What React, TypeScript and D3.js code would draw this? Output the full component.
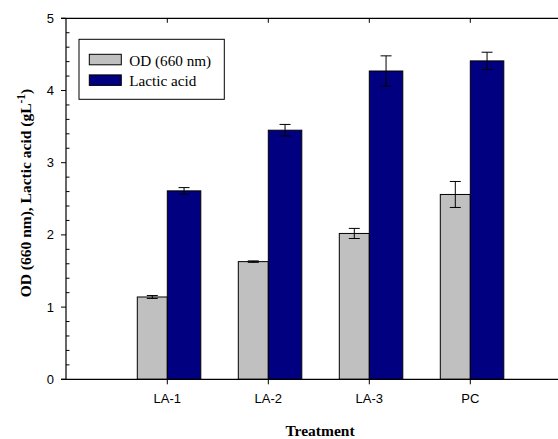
import React from "react";
import * as d3 from "d3";

const categories = ["LA-1", "LA-2", "LA-3", "PC"];
const odValues = [1.14, 1.63, 2.02, 2.56];
const odErrors = [0.02, 0.01, 0.07, 0.18];
const lacticValues = [2.61, 3.45, 4.27, 4.41];
const lacticErrors = [0.045, 0.08, 0.21, 0.12];
const yTicks = [0, 1, 2, 3, 4, 5];
const seriesNames = ["OD (660 nm)", "Lactic acid"];
const seriesColors = ["#C0C0C0", "#000080"];

const W = 558;
const H = 439;
const left = 66;
const right = 558;
const top = 18.3;
const bottom = 379.3;

export default function App() {
  const y = d3.scaleLinear().domain([0, 5]).range([bottom, top]);
  const x = d3.scaleLinear().domain([1, 4]).range([167.3, 470.3]);
  const minor = d3.range(0, 5.001, 0.2).filter((v) => Math.abs(v - Math.round(v)) > 1e-6);
  const grayW = 30;
  const blueW = 33.5;
  const cap = 5.5;

  const errBar = (cx: number, v: number, e: number, key: string) => (
    <g key={key} stroke="#000" strokeWidth={1}>
      <line x1={cx} x2={cx} y1={y(v + e)} y2={y(v - e)} />
      <line x1={cx - cap} x2={cx + cap} y1={y(v + e)} y2={y(v + e)} />
      <line x1={cx - cap} x2={cx + cap} y1={y(v - e)} y2={y(v - e)} />
    </g>
  );

  return (
    <svg width={W} height={H} style={{ position: "absolute", left: 0, top: 0, background: "#fff" }}>
      <rect x={0} y={0} width={W} height={H} fill="#fff" />
      {categories.map((c, i) => {
        const cx = x(i + 1);
        return (
          <g key={c}>
            <rect x={cx - grayW} y={y(odValues[i])} width={grayW} height={y(0) - y(odValues[i])} fill={seriesColors[0]} stroke="#000" strokeWidth={1} />
            <rect x={cx} y={y(lacticValues[i])} width={blueW} height={y(0) - y(lacticValues[i])} fill={seriesColors[1]} stroke="#000" strokeWidth={1} />
            {errBar(cx - grayW / 2, odValues[i], odErrors[i], "e1")}
            {errBar(cx + blueW / 2, lacticValues[i], lacticErrors[i], "e2")}
          </g>
        );
      })}
      <line x1={left} x2={left} y1={top} y2={bottom} stroke="#000" strokeWidth={1.2} />
      <line x1={left - 5} x2={right} y1={bottom} y2={bottom} stroke="#000" strokeWidth={1.2} />
      <line x1={left - 5} x2={right} y1={top} y2={top} stroke="#000" strokeWidth={1.2} />
      {yTicks.map((t) => (
        <g key={t}>
          <line x1={left - 5} x2={left} y1={y(t)} y2={y(t)} stroke="#000" strokeWidth={1} />
          <text x={left - 12} y={y(t)} dy="0.35em" textAnchor="end" fontFamily="'Liberation Sans', Arial, sans-serif" fontSize={13} fill="#000">
            {t}
          </text>
        </g>
      ))}
      {minor.map((t) => (
        <line key={t} x1={left} x2={left + 3.5} y1={y(t)} y2={y(t)} stroke="#000" strokeWidth={1} />
      ))}
      {categories.map((c, i) => (
        <g key={c}>
          <line x1={x(i + 1)} x2={x(i + 1)} y1={bottom} y2={bottom + 5} stroke="#000" strokeWidth={1} />
          <line x1={x(i + 1)} x2={x(i + 1)} y1={top} y2={top + 4.5} stroke="#000" strokeWidth={1} />
          <text x={x(i + 1)} y={403} textAnchor="middle" fontFamily="'Liberation Sans', Arial, sans-serif" fontSize={13} fill="#000">
            {c}
          </text>
        </g>
      ))}
      <text x={320} y={436} textAnchor="middle" fontFamily="'Liberation Serif', serif" fontWeight="bold" fontSize={15.5} fill="#000">
        Treatment
      </text>
      <text transform="translate(31,193) rotate(-90)" textAnchor="middle" fontFamily="'Liberation Serif', serif" fontWeight="bold" fontSize={15.5} fill="#000">
        OD (660 nm), Lactic acid (gL
        <tspan dy={-6} fontSize={11.5}>-1</tspan>
        <tspan dy={6}>)</tspan>
      </text>
      <rect x={79} y={39.3} width={145.3} height={60} fill="#fff" stroke="#000" strokeWidth={1} />
      {seriesNames.map((n, i) => (
        <g key={n}>
          <rect x={89.3} y={54.3 + i * 20.6} width={32} height={10.5} fill={seriesColors[i]} stroke="#000" strokeWidth={1} />
          <text x={129.3} y={65.5 + i * 20.8} fontFamily="'Liberation Serif', serif" fontSize={15.2} fill="#000">
            {n}
          </text>
        </g>
      ))}
    </svg>
  );
}
